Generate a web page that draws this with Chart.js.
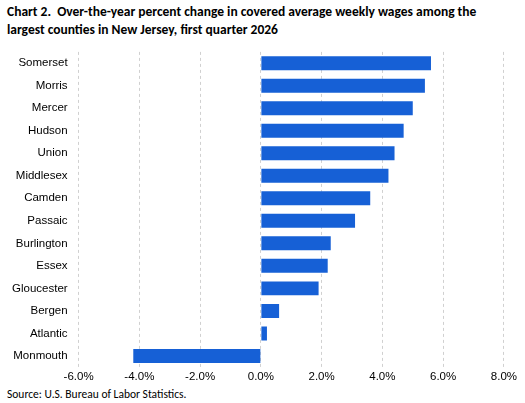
<!DOCTYPE html>
<html><head><meta charset="utf-8">
<script src="https://cdn.jsdelivr.net/npm/chart.js@4"></script>
<style>body{margin:0;background:#fff;font-family:Calibri,Carlito,"Liberation Sans",sans-serif}
#t{position:absolute;left:7px;top:3px;font-weight:bold;font-size:13.5px;line-height:18px;color:#000}
#s{position:absolute;left:7px;top:387px;font-size:11.5px;color:#000}
#w{position:absolute;left:0;top:42px;width:520px;height:345px}</style></head>
<body>
<div id="t">Chart 2.&nbsp; Over-the-year percent change in covered average weekly wages among the<br>largest counties in New Jersey, first quarter 2026</div>
<div id="w"><canvas id="c"></canvas></div>
<div id="s">Source: U.S. Bureau of Labor Statistics.</div>
<script>
const counties=["Somerset","Morris","Mercer","Hudson","Union","Middlesex","Camden","Passaic","Burlington","Essex","Gloucester","Bergen","Atlantic","Monmouth"];
const changes=[5.6,5.4,5.0,4.7,4.4,4.2,3.6,3.1,2.3,2.2,1.9,0.6,0.2,-4.2];
new Chart(document.getElementById('c'),{type:'bar',
data:{labels:counties,datasets:[{data:changes,backgroundColor:'#1660d6',barPercentage:0.62,categoryPercentage:1}]},
options:{indexAxis:'y',responsive:true,maintainAspectRatio:false,animation:false,
layout:{padding:{left:9,right:12,top:0,bottom:0}},
plugins:{legend:{display:false},tooltip:{enabled:false}},
scales:{x:{min:-6,max:8,ticks:{stepSize:2,color:'#000',font:{size:11.5,family:'Liberation Sans'},callback:v=>v.toFixed(1)+'%'},
grid:{color:'#d0d0d0',drawTicks:false},border:{display:false,dash:[3,3]}},
y:{ticks:{color:'#000',font:{size:11.5,family:'Liberation Sans'}},grid:{display:false},border:{display:false}}}}});
</script></body></html>
